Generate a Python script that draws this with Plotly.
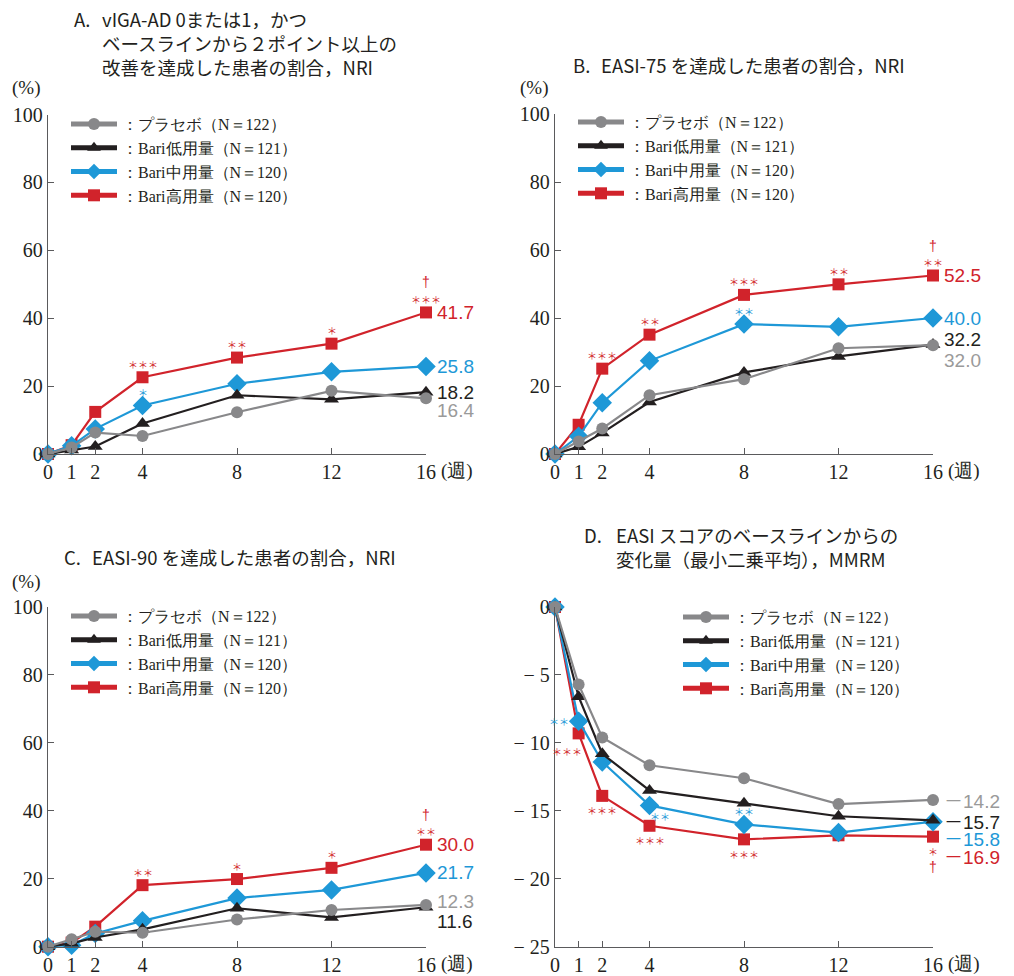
import plotly.graph_objects as go

# ---------------- data ----------------
weeks = [0, 1, 2, 4, 8, 12, 16]
x_tick_vals = [0, 1, 2, 4, 8, 12, 16]
x_tick_text = ["0", "1", "2", "4", "8", "12", "16"]
pct_tick_vals = [0, 20, 40, 60, 80, 100]
pct_tick_text = ["0", "20", "40", "60", "80", "100"]
chg_tick_vals = [0, -5, -10, -15, -20, -25]
chg_tick_text = ["0", "− 5", "− 10", "− 15", "− 20", "− 25"]

series_names = ["：プラセボ（N＝122）", "：Bari低用量（N＝121）",
                "：Bari中用量（N＝120）", "：Bari高用量（N＝120）"]

A_placebo = [0, 1.9, 6.3, 5.3, 12.3, 18.6, 16.4]
A_low = [0, 1.2, 2.2, 9.0, 17.3, 16.1, 18.2]
A_mid = [0, 2.4, 7.4, 14.3, 20.7, 24.2, 25.8]
A_high = [0, 2.6, 12.4, 22.6, 28.4, 32.5, 41.7]

B_placebo = [0, 3.7, 7.5, 17.3, 22.0, 31.1, 32.0]
B_low = [0, 2.1, 6.2, 15.3, 24.0, 28.7, 32.2]
B_mid = [0, 5.2, 15.1, 27.4, 38.2, 37.4, 40.0]
B_high = [0, 8.6, 25.1, 35.1, 46.8, 49.9, 52.5]

C_placebo = [0, 2.2, 4.4, 4.1, 8.0, 10.8, 12.3]
C_low = [0, 1.0, 2.7, 5.1, 11.3, 8.6, 11.6]
C_mid = [0, 0.4, 3.9, 7.6, 14.3, 16.7, 21.7]
C_high = [0, 1.2, 5.9, 18.1, 19.9, 23.2, 30.0]

D_placebo = [0, -5.7, -9.6, -11.65, -12.6, -14.5, -14.2]
D_low = [0, -6.6, -10.8, -13.5, -14.45, -15.4, -15.7]
D_mid = [0, -8.4, -11.4, -14.6, -16.0, -16.6, -15.8]
D_high = [0, -9.3, -13.9, -16.1, -17.1, -16.8, -16.9]

# significance marks: (series index, week, text, placement)
A_marks = [(3, 4, "＊＊＊", "up"), (2, 4, "＊", "up"), (3, 8, "＊＊", "up"),
           (3, 12, "＊", "up"), (3, 16, "＊＊＊", "up"), (3, 16, "†", "up2")]
B_marks = [(3, 2, "＊＊＊", "up"), (3, 4, "＊＊", "up"), (3, 8, "＊＊＊", "up"),
           (2, 8, "＊＊", "up"), (3, 12, "＊＊", "up"), (3, 16, "＊＊", "up"),
           (3, 16, "†", "up2")]
C_marks = [(3, 4, "＊＊", "up"), (3, 8, "＊", "up"), (3, 12, "＊", "up"),
           (3, 16, "＊＊", "up"), (3, 16, "†", "up2")]
D_marks = [(2, 1, "＊＊", "left"), (3, 1, "＊＊＊", "downleft"),
           (3, 2, "＊＊＊", "down"), (2, 4, "＊＊", "downright"),
           (3, 4, "＊＊＊", "down"), (2, 8, "＊＊", "up"),
           (3, 8, "＊＊＊", "down"), (3, 16, "＊", "down"), (3, 16, "†", "down2")]

# end-label vertical nudges (pixels) per series, per panel
A_label_shift = [-12, 0, 0, 0]
B_label_shift = [-15, 5, 0, 0]
C_label_shift = [3, -14, 0, 0]
D_label_shift = [0, 0, -16, -19]

# ---------------- style ----------------
W, H = 1014, 976
colors = ["#88888a", "#231f20", "#1e98d7", "#d1232b"]
label_colors = ["#9a9a9a", "#231f20", "#1e98d7", "#d1232b"]
symbols = ["circle", "triangle-up", "diamond", "square"]
msizes = [12, 13, 15, 12]
AX = "#5a5a5c"
SERIF = "Liberation Serif"
SANS = "Liberation Sans"
GOTHIC = "Noto Sans CJK JP"


def px(x):
    return x / W


def py(y):
    return 1 - y / H


panels = [
    dict(data=[A_placebo, A_low, A_mid, A_high], marks=A_marks,
         shift=A_label_shift, xr=(48, 426), yr=(454, 114.5), rng=[0, 100],
         tv=pct_tick_vals, tt=pct_tick_text, legend="legend", neg=False),
    dict(data=[B_placebo, B_low, B_mid, B_high], marks=B_marks,
         shift=B_label_shift, xr=(555, 933), yr=(454, 114), rng=[0, 100],
         tv=pct_tick_vals, tt=pct_tick_text, legend="legend2", neg=False),
    dict(data=[C_placebo, C_low, C_mid, C_high], marks=C_marks,
         shift=C_label_shift, xr=(48, 426), yr=(946.7, 606.7), rng=[0, 100],
         tv=pct_tick_vals, tt=pct_tick_text, legend="legend3", neg=False),
    dict(data=[D_placebo, D_low, D_mid, D_high], marks=D_marks,
         shift=D_label_shift, xr=(555, 933), yr=(946.7, 607), rng=[-25, 0],
         tv=chg_tick_vals, tt=chg_tick_text, legend="legend4", neg=True),
]

fig = go.Figure()
annotations = []
layout = {}

for i, p in enumerate(panels):
    n = "" if i == 0 else str(i + 1)
    xa, ya = "x" + n, "y" + n
    layout["xaxis" + n] = dict(
        domain=[px(p["xr"][0]), px(p["xr"][1])], range=[0, 16], anchor=ya,
        tickvals=x_tick_vals, ticktext=x_tick_text, showline=True,
        linecolor=AX, linewidth=1.3, ticks="inside", ticklen=6, tickcolor=AX,
        tickwidth=1.3, showgrid=False, zeroline=False, automargin=False,
        tickfont=dict(family=SERIF, size=20, color="#231f20"))
    layout["yaxis" + n] = dict(
        domain=[py(p["yr"][0]), py(p["yr"][1])], range=p["rng"], anchor=xa,
        tickvals=p["tv"], ticktext=p["tt"], showline=True, linecolor=AX,
        linewidth=1.3, ticks="inside", ticklen=6, tickcolor=AX, tickwidth=1.3,
        showgrid=False, zeroline=False, automargin=False,
        tickfont=dict(family=SERIF, size=20, color="#231f20"))
    for s in [3, 2, 1, 0]:
        fig.add_trace(go.Scatter(
            x=weeks, y=p["data"][s], xaxis=xa, yaxis=ya, mode="lines+markers",
            name=series_names[s], legend=p["legend"], cliponaxis=False,
            line=dict(color=colors[s], width=2.2),
            marker=dict(symbol=symbols[s], size=msizes[s], color=colors[s],
                        line=dict(width=0)),
            hoverinfo="skip"))
    for s in range(4):
        v = p["data"][s][-1]
        if p["neg"]:
            txt = (f"<span style='font-family:{GOTHIC}'>－</span>"
                   f"{abs(v):.1f}")
        else:
            txt = f"{v:.1f}"
        annotations.append(dict(
            x=weeks[-1], y=v, xref=xa, yref=ya, text=txt, showarrow=False,
            xanchor="left", yanchor="middle", xshift=10,
            yshift=p["shift"][s], borderpad=0,
            font=dict(family=SANS, size=19, color=label_colors[s])))
    for (s, wk, txt, place) in p["marks"]:
        v = p["data"][s][weeks.index(wk)]
        xs, ys = 0, 0
        if place == "up":
            ys = 13
        elif place == "up2":
            ys = 30
        elif place == "down":
            ys = -15
        elif place == "down2":
            ys = -30
        elif place == "left":
            xs, ys = -20, 0
        elif place == "downleft":
            xs, ys = -12, -18
        elif place == "downright":
            xs, ys = 10, -11
        dag = txt == "†"
        annotations.append(dict(
            x=wk, y=v, xref=xa, yref=ya, text=txt, showarrow=False,
            xanchor="center", yanchor="middle", xshift=xs, yshift=ys,
            borderpad=0,
            font=dict(family=SANS if dag else GOTHIC, size=14 if dag else 10,
                      color=colors[s])))
    annotations.append(dict(
        x=16, y=0, xref=xa, yref=ya + " domain", text="(週)", showarrow=False,
        xanchor="left", yanchor="top", xshift=13, yshift=-4,
        font=dict(family=SERIF, size=19, color="#231f20")))

# legends
leg_pos = {"legend": (66, 107), "legend2": (573, 105),
           "legend3": (66, 599), "legend4": (678, 600)}
for lk, (lx, ly) in leg_pos.items():
    layout[lk] = dict(x=px(lx), y=py(ly), xanchor="left", yanchor="top",
                      bgcolor="rgba(0,0,0,0)", traceorder="reversed",
                      itemsizing="constant", tracegroupgap=0, itemwidth=46,
                      font=dict(family=SERIF, size=16, color="#231f20"))

# titles
tfont = dict(family=GOTHIC, size=18.5, color="#231f20")
titles = [
    (73, 17, "A."),
    (101, 17, "vIGA-AD 0または1，かつ<br>ベースラインから２ポイント以上の<br>改善を達成した患者の割合，NRI"),
    (572, 63, "B."), (600, 63, "EASI-75 を達成した患者の割合，NRI"),
    (63, 555, "C."), (91, 555, "EASI-90 を達成した患者の割合，NRI"),
    (583, 533, "D."),
    (615, 533, "EASI スコアのベースラインからの<br>変化量（最小二乗平均），MMRM"),
]
for (tx, ty, t) in titles:
    annotations.append(dict(x=px(tx), y=py(ty), xref="paper", yref="paper",
                            text=t, showarrow=False, xanchor="left",
                            yanchor="top", yshift=12, align="left",
                            borderpad=0, font=tfont))
for (tx, ty) in [(26, 88), (534, 88), (26, 582)]:
    annotations.append(dict(x=px(tx), y=py(ty), xref="paper", yref="paper",
                            text="(%)", showarrow=False, xanchor="center",
                            yanchor="middle",
                            font=dict(family=SERIF, size=19, color="#231f20")))

fig.update_layout(
    width=W, height=H, margin=dict(l=0, r=0, t=0, b=0, pad=0, autoexpand=False),
    paper_bgcolor="white", plot_bgcolor="white", showlegend=True,
    annotations=annotations, **layout)

fig.write_html("out.html", config={"displayModeBar": False},
               post_script="document.body.style.margin='0px';")
